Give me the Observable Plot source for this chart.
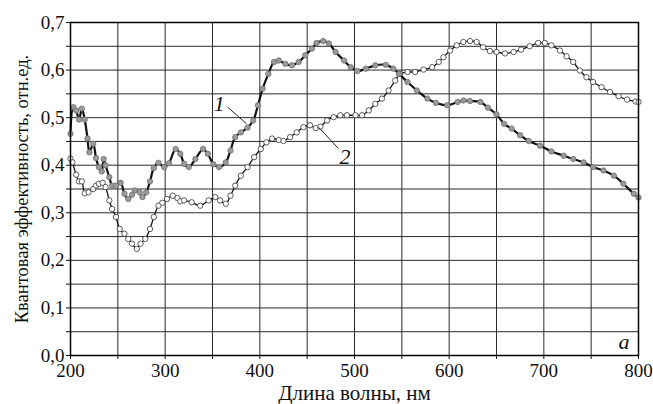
<!DOCTYPE html>
<html>
<head>
<meta charset="utf-8">
<script src="https://cdn.jsdelivr.net/npm/d3@7"></script>
<script src="https://cdn.jsdelivr.net/npm/@observablehq/plot@0.6"></script>
<style>
  html, body { margin: 0; padding: 0; background: #fff; }
  #chart svg { display: block; }
  #chart svg text { font-family: 'Liberation Serif', 'DejaVu Serif', serif !important; fill: #111; }
</style>
</head>
<body>
<div id="chart"></div>
<script>
// Curve 1 (grey filled markers)
const wl1 = [200,203,206,209,212,215,218,220,224,227,230,233,235,237,241,244,248,253,257,261,265,268,273,276,280,284,288,293,299,304,311,316,320,325,332,340,345,351,357,364,369,374,380,387,393,398,403,409,415,420,427,434,441,448,455,460,467,473,480,489,496,503,512,522,533,541,547,556,566,577,586,598,609,615,622,633,641,650,658,666,675,684,696,708,721,731,742,752,763,774,784,795,800];
const val1 = [0.466,0.522,0.515,0.496,0.519,0.496,0.456,0.427,0.445,0.415,0.396,0.387,0.413,0.400,0.375,0.357,0.357,0.363,0.340,0.329,0.338,0.347,0.343,0.333,0.343,0.366,0.394,0.405,0.396,0.404,0.434,0.424,0.403,0.396,0.413,0.434,0.424,0.402,0.396,0.406,0.431,0.459,0.469,0.479,0.494,0.526,0.561,0.592,0.617,0.620,0.613,0.610,0.617,0.631,0.645,0.657,0.661,0.656,0.638,0.620,0.606,0.598,0.603,0.610,0.611,0.603,0.592,0.575,0.557,0.540,0.531,0.526,0.533,0.536,0.535,0.533,0.521,0.507,0.487,0.477,0.463,0.451,0.441,0.429,0.420,0.413,0.406,0.396,0.389,0.378,0.361,0.340,0.332];

// Curve 2 (white markers)
const wl2 = [200,202,206,209,212,215,219,224,227,230,234,237,241,244,248,252,257,261,265,270,274,279,284,288,293,297,302,308,313,316,320,328,337,346,353,358,364,369,374,380,387,394,401,407,413,420,425,432,439,446,453,459,464,471,478,485,492,501,508,515,522,529,536,543,548,556,564,573,582,589,594,601,608,615,622,629,636,643,650,659,668,676,685,694,701,708,717,724,731,738,745,752,761,770,779,788,797,800];
const val2 = [0.414,0.406,0.380,0.366,0.366,0.341,0.343,0.350,0.357,0.361,0.363,0.354,0.326,0.308,0.291,0.266,0.256,0.245,0.235,0.224,0.235,0.245,0.266,0.291,0.315,0.321,0.329,0.336,0.331,0.324,0.326,0.322,0.315,0.326,0.333,0.326,0.319,0.336,0.357,0.378,0.396,0.417,0.434,0.448,0.456,0.453,0.451,0.459,0.469,0.480,0.484,0.478,0.481,0.494,0.501,0.505,0.505,0.505,0.505,0.515,0.529,0.540,0.557,0.578,0.592,0.596,0.596,0.601,0.606,0.617,0.627,0.641,0.652,0.659,0.661,0.659,0.648,0.640,0.638,0.635,0.638,0.643,0.650,0.657,0.657,0.652,0.641,0.629,0.617,0.599,0.585,0.575,0.564,0.554,0.545,0.538,0.534,0.533];

// Axis ticks
const xTicks = d3.range(200, 801, 50);
const yTicks = d3.range(0, 0.7001, 0.05).map(v => +v.toFixed(2));

// Annotation labels (data units)
const labelText = ["1", "2"];
const labelX = [357, 490];
const labelY = [0.528, 0.417];
const leaderX1 = [366, 462];
const leaderY1 = [0.522, 0.480];
const leaderX2 = [386, 483];
const leaderY2 = [0.487, 0.435];

const s1 = wl1.map((x, i) => ({x, y: val1[i]}));
const s2 = wl2.map((x, i) => ({x, y: val2[i]}));
const labels = labelText.map((t, i) => ({t, x: labelX[i], y: labelY[i]}));
const leaders = labelText.map((t, i) => ({x1: leaderX1[i], y1: leaderY1[i], x2: leaderX2[i], y2: leaderY2[i]}));

const fmtY = d => Math.round(d * 100) % 10 === 0 ? d.toFixed(1).replace(".", ",") : "";
const fmtX = d => d % 100 === 0 ? String(d) : "";

const serif = "'Liberation Serif', 'DejaVu Serif', serif";

const chart = Plot.plot({
  width: 653,
  height: 404,
  marginLeft: 70,
  marginRight: 15,
  marginTop: 22,
  marginBottom: 49,
  style: {fontFamily: serif, fontSize: "19px", color: "#111", background: "#fff"},
  x: {domain: [200, 800]},
  y: {domain: [0, 0.7]},
  marks: [
    Plot.gridX(xTicks, {stroke: "#2a2a2a", strokeOpacity: 1, strokeWidth: 1}),
    Plot.gridY(yTicks, {stroke: "#2a2a2a", strokeOpacity: 1, strokeWidth: 1}),
    Plot.axisX({ticks: xTicks, tickFormat: fmtX, tickSize: 4, tickPadding: 4, fontSize: 19, fontFamily: serif, label: null}),
    Plot.axisX({ticks: [], label: "Длина волны, нм", labelAnchor: "center", labelOffset: 44, labelArrow: "none", fontSize: 21, fontFamily: serif}),
    Plot.axisY({ticks: yTicks, tickFormat: fmtY, tickSize: 4, tickPadding: 2, fontSize: 19, fontFamily: serif, label: null}),
    Plot.axisY({ticks: [], label: "Квантовая эффективность, отн.ед.", labelAnchor: "center", labelOffset: 56, labelArrow: "none", fontSize: 18.5, fontFamily: serif}),
    Plot.line(s2, {x: "x", y: "y", stroke: "#111", strokeWidth: 1.3, curve: "catmull-rom"}),
    Plot.dot(s2, {x: "x", y: "y", r: 2.7, fill: "#fff", stroke: "#333", strokeWidth: 0.8}),
    Plot.line(s1, {x: "x", y: "y", stroke: "#111", strokeWidth: 2.2, curve: "catmull-rom"}),
    Plot.dot(s1, {x: "x", y: "y", r: 2.7, fill: "#9a9a9a", stroke: "#6e6e6e", strokeWidth: 0.8}),
    Plot.link(leaders, {x1: "x1", y1: "y1", x2: "x2", y2: "y2", stroke: "#222", strokeWidth: 1}),
    Plot.text(labels, {x: "x", y: "y", text: "t", fontSize: 22, fontStyle: "italic", fill: "#111"}),
    Plot.text(["a"], {frameAnchor: "bottom-right", dx: -9, dy: -7, fontSize: 22, fontStyle: "italic", fill: "#111"}),
    Plot.frame({stroke: "#000", strokeWidth: 1.5})
  ]
});
document.getElementById("chart").appendChild(chart);
</script>
</body>
</html>
